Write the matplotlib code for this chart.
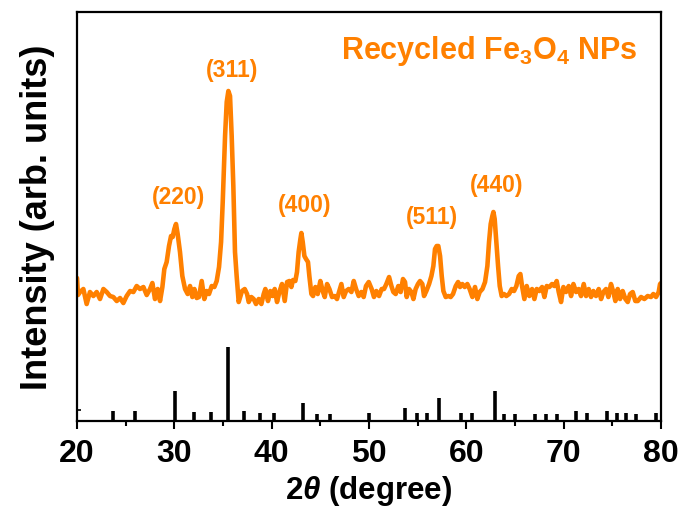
import numpy as np
import matplotlib
matplotlib.use("Agg")
import matplotlib.pyplot as plt

plt.rcParams['font.family'] = ['Liberation Sans', 'DejaVu Sans']
plt.rcParams['font.weight'] = 'bold'
plt.rcParams['mathtext.fontset'] = 'custom'
plt.rcParams['mathtext.rm'] = 'Liberation Sans:bold'
plt.rcParams['mathtext.bf'] = 'Liberation Sans:bold'
plt.rcParams['mathtext.it'] = 'Liberation Sans:italic:bold'

# measured pattern: 2-theta (deg) and intensity (a.u.)
two_theta = [
    20.00, 20.10, 20.31, 20.65, 20.99, 21.33, 21.68, 22.02, 22.36, 22.71,
    23.05, 23.39, 23.73, 24.08, 24.42, 24.76, 25.10, 25.45, 25.79, 26.13,
    26.47, 26.82, 27.16, 27.50, 27.74, 28.01, 28.29, 28.53, 28.77, 28.97,
    29.21, 29.45, 29.66, 29.83, 30.00, 30.17, 30.34, 30.58, 30.82, 31.10,
    31.37, 31.61, 31.85, 32.06, 32.30, 32.53, 32.81, 33.08, 33.32, 33.56,
    33.84, 34.11, 34.35, 34.59, 34.80, 34.97, 35.21, 35.38, 35.55, 35.72,
    35.89, 36.06, 36.23, 36.40, 36.61, 36.95, 37.23, 37.47, 37.64, 37.91,
    38.15, 38.39, 38.67, 38.94, 39.18, 39.35, 39.62, 39.86, 40.10, 40.31,
    40.55, 40.79, 41.06, 41.34, 41.58, 41.82, 42.02, 42.19, 42.43, 42.60,
    42.77, 42.95, 43.05, 43.19, 43.36, 43.53, 43.73, 43.87, 44.08, 44.25,
    44.49, 44.73, 45.00, 45.24, 45.45, 45.69, 45.93, 46.20, 46.47, 46.71,
    46.95, 47.16, 47.40, 47.64, 47.91, 48.19, 48.43, 48.67, 48.94, 49.21,
    49.45, 49.69, 49.97, 50.27, 50.51, 50.75, 51.03, 51.30, 51.54, 51.78,
    52.06, 52.30, 52.50, 52.74, 53.01, 53.25, 53.49, 53.70, 53.87, 54.11,
    54.35, 54.56, 54.79, 55.03, 55.24, 55.48, 55.65, 55.89, 56.17, 56.41,
    56.61, 56.78, 56.95, 57.12, 57.30, 57.47, 57.64, 57.88, 58.15, 58.39,
    58.63, 58.91, 59.15, 59.35, 59.59, 59.83, 60.10, 60.34, 60.62, 60.89,
    61.13, 61.37, 61.65, 61.92, 62.16, 62.33, 62.50, 62.67, 62.78, 62.91,
    63.08, 63.26, 63.43, 63.63, 63.87, 64.11, 64.39, 64.66, 64.90, 65.14,
    65.38, 65.55, 65.72, 65.96, 66.20, 66.47, 66.75, 66.99, 67.23, 67.50,
    67.78, 68.02, 68.26, 68.53, 68.80, 69.04, 69.28, 69.49, 69.73, 69.97,
    70.24, 70.52, 70.76, 71.00, 71.27, 71.54, 71.78, 72.06, 72.30, 72.57,
    72.81, 73.05, 73.32, 73.60, 73.84, 74.08, 74.35, 74.59, 74.86, 75.10,
    75.31, 75.55, 75.79, 76.06, 76.34, 76.58, 76.82, 77.09, 77.36, 77.61,
    77.95, 78.29, 78.63, 78.97, 79.21, 79.49, 79.76, 79.90, 80.00,
]
intensity = [
    143, 126, 129, 132, 117, 129, 125, 129, 122, 132,
    129, 125, 124, 120, 123, 118, 125, 130, 129, 135,
    132, 134, 126, 132, 138, 122, 132, 120, 134, 152,
    159, 175, 185, 184, 192, 197, 187, 169, 145, 132,
    127, 135, 124, 132, 123, 124, 140, 122, 130, 127,
    135, 134, 140, 154, 179, 219, 285, 319, 330, 325,
    285, 235, 169, 145, 119, 130, 132, 127, 119, 124,
    122, 117, 122, 117, 127, 132, 120, 130, 125, 132,
    119, 129, 137, 120, 139, 140, 134, 141, 140, 149,
    169, 182, 188, 179, 165, 162, 159, 145, 127, 125,
    134, 127, 140, 130, 124, 137, 132, 124, 125, 122,
    130, 137, 124, 130, 132, 129, 140, 132, 125, 129,
    124, 135, 139, 132, 124, 130, 125, 132, 132, 137,
    144, 135, 129, 127, 135, 129, 142, 139, 124, 132,
    129, 122, 132, 137, 140, 137, 125, 130, 137, 145,
    155, 172, 175, 175, 165, 145, 130, 124, 125, 124,
    127, 135, 139, 134, 137, 134, 137, 132, 124, 134,
    122, 129, 132, 139, 155, 179, 197, 205, 209, 202,
    179, 155, 135, 125, 127, 125, 127, 132, 130, 135,
    145, 147, 135, 122, 135, 125, 132, 122, 132, 130,
    134, 124, 135, 134, 137, 135, 140, 129, 119, 134,
    129, 135, 125, 137, 129, 132, 125, 137, 125, 132,
    124, 130, 125, 132, 122, 129, 132, 124, 137, 129,
    120, 132, 122, 130, 122, 119, 127, 129, 120, 120,
    124, 122, 125, 124, 127, 124, 129, 137, 138,
]
assert len(two_theta) == len(intensity)

# reference (standard) stick pattern: positions and relative intensity (%)
ref_pos = [23.67, 25.99, 30.10, 32.06, 33.80, 35.51, 37.16, 38.77, 40.27,
           43.22, 44.66, 46.00, 49.97, 53.70, 54.90, 56.00, 57.20, 59.50,
           60.60, 62.90, 63.90, 64.97, 67.10, 68.20, 69.30, 71.30, 72.40,
           74.40, 75.45, 76.40, 77.40, 79.45]
ref_int = [14, 14, 41, 12, 12, 100, 13, 11, 11,
           24, 10, 10, 11, 18, 11, 11, 31, 11,
           11, 40, 10, 10, 10, 10, 10, 13, 11,
           14, 11, 11, 10, 11]

# peak labels
hkl_labels = ['(220)', '(311)', '(400)', '(511)', '(440)']
hkl_pos = [30.4, 35.9, 43.4, 56.5, 63.1]
hkl_int = [225, 352, 217, 205, 237]

title = r'Recycled Fe$_\mathbf{3}$O$_\mathbf{4}$ NPs'
orange = '#FF8000'

fig = plt.figure(figsize=(6.84, 5.10), dpi=100)
ax = fig.add_axes([0.1126, 0.1725, 0.8538, 0.802])

ax.plot(two_theta, intensity, color=orange, lw=3.3, solid_joinstyle='round',
        solid_capstyle='round')
stick_scale = 0.74
ax.vlines(ref_pos, 0, np.array(ref_int) * stick_scale, color='black', lw=2.6)

for lab, x, y in zip(hkl_labels, hkl_pos, hkl_int):
    ax.text(x, y, lab, color=orange, fontsize=16.5, fontweight='bold',
            ha='center', va='center')

ax.text(0.96, 0.908, title, transform=ax.transAxes, color=orange,
        fontsize=22, fontweight='bold', ha='right', va='center')

ax.set_xlim(20, 80)
ax.set_ylim(0, 409)
ax.set_xticks([20, 30, 40, 50, 60, 70, 80])
ax.set_xticks([25, 35, 45, 55, 65, 75], minor=True)
ax.tick_params(axis='x', which='major', direction='out', length=6, width=1.5,
               labelsize=23, pad=6)
ax.tick_params(axis='x', which='minor', direction='out', length=3.5, width=1.5)
ax.set_yticks([11])
ax.set_yticklabels([])
ax.tick_params(axis='y', which='major', direction='in', length=3, width=1.2)
for lab in ax.get_xticklabels():
    lab.set_fontweight('bold')
for sp in ax.spines.values():
    sp.set_linewidth(1.6)

ax.set_xlabel(r'2$\mathit{\theta}$ (degree)', fontsize=22.5, fontweight='bold',
              labelpad=4)
ax.set_ylabel('Intensity (arb. units)', fontsize=26, fontweight='bold',
              labelpad=12)

fig.savefig('out.png', dpi=100)
